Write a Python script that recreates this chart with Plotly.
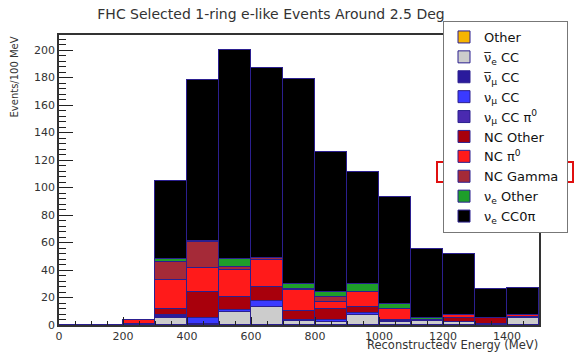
import plotly.graph_objects as go

# Bin centres (MeV), 100 MeV bins from 0 to 1500
bin_centers = [50, 150, 250, 350, 450, 550, 650, 750, 850, 950, 1050, 1150, 1250, 1350, 1450]

# Stack components (events per bin), bottom to top
other      = [0, 0, 0, 0, 0, 0, 0, 0, 0, 0, 0, 0, 0, 0, 0]
nuebar_cc  = [0, 0, 0, 5, 1, 9.2, 13.3, 3, 2, 7.3, 2.4, 3, 2, 1, 5]
numubar_cc = [0, 0, 0, 2.3, 0, 0, 0, 0.5, 0.5, 0, 0, 0, 0, 0, 0]
numu_cc    = [0, 0, 0, 0, 3.8, 1.7, 4.2, 0.5, 1, 1.7, 0.6, 0, 0, 0, 0]
numu_ccpi0 = [0, 0, 0, 0, 0, 0, 0, 0, 0, 0, 0, 0, 0, 0, 0]
nc_other   = [0, 0, 1, 4.3, 19.2, 9.7, 10.4, 6, 8.1, 4.3, 1, 0.5, 3.3, 3.8, 1]
nc_pi0     = [0, 0, 2.5, 21.1, 17.7, 19.4, 19.4, 15.5, 5.4, 10.9, 7.6, 0, 2, 0, 1.5]
nc_gamma   = [0, 0, 0, 12.9, 18.9, 2, 1.5, 0.5, 3.6, 0, 0, 0, 0, 0, 0]
nue_other  = [0, 0, 0, 2.4, 0.5, 6, 0, 3.6, 3.6, 5.4, 3.4, 1.5, 0, 0, 0]
nue_cc0pi  = [0, 0, 0, 57, 117, 152, 138.5, 149.4, 101.4, 81.4, 78, 50, 44.7, 21.2, 19.5]

series_names = [
    "Other",
    "ν̅<sub>e</sub> CC",
    "ν̅<sub>μ</sub> CC",
    "ν<sub>μ</sub> CC",
    "ν<sub>μ</sub> CC π<sup>0</sup>",
    "NC Other",
    "NC π<sup>0</sup>",
    "NC Gamma",
    "ν<sub>e</sub> Other",
    "ν<sub>e</sub> CC0π",
]
series_values = [other, nuebar_cc, numubar_cc, numu_cc, numu_ccpi0,
                 nc_other, nc_pi0, nc_gamma, nue_other, nue_cc0pi]
series_colors = ["#f7b500", "#cccccc", "#2a1a9c", "#3a3aff", "#4a2ab0",
                 "#a8000c", "#ff1a1a", "#a52a38", "#1e9e2a", "#000000"]

x_tickvals = [0, 200, 400, 600, 800, 1000, 1200, 1400]
y_tickvals = [0, 20, 40, 60, 80, 100, 120, 140, 160, 180, 200]

fig = go.Figure()
for i, (name, vals, col) in enumerate(zip(series_names, series_values, series_colors)):
    # pad the widest legend label so the legend box reaches the right edge
    label = name + "\u00a0" * 6 if i == 4 else name
    fig.add_trace(go.Bar(
        x=bin_centers, y=vals, width=100, name=label,
        marker=dict(color=col, line=dict(color="#2b1f8f", width=1)),
    ))

font_family = "DejaVu Sans, Liberation Sans, Arial, sans-serif"

# plot area in pixels
L, R, T, B = 59, 35, 35, 27
W, H = 574, 352
pw, ph = W - L - R, H - T - B

def px_x(p):
    return (p - L) / pw

def px_y(p):
    return (H - B - p) / ph

fig.update_layout(
    width=W, height=H,
    margin=dict(l=L, r=R, t=T, b=B, autoexpand=False),
    barmode="stack", bargap=0,
    paper_bgcolor="white", plot_bgcolor="white",
    font=dict(family=font_family, color="#222"),
    title=dict(text="FHC Selected 1-ring e-like Events Around 2.5 Deg",
               x=px_x(271), xref="paper", xanchor="center",
               y=1 - 14 / H, yref="container", yanchor="middle",
               font=dict(size=14, color="#333", family=font_family)),
    xaxis=dict(range=[0, 1500], tickvals=x_tickvals, ticks="inside", ticklen=8,
               tickcolor="#222", showline=True, linecolor="#333", linewidth=1.5,
               mirror=True, showgrid=False, zeroline=False,
               tickfont=dict(size=11, color="#333"),
               minor=dict(ticks="inside", ticklen=4, dtick=50, tickcolor="#222")),
    yaxis=dict(range=[0, 211], tickvals=y_tickvals, ticks="inside", ticklen=14,
               tickcolor="#222", showline=True, linecolor="#333", linewidth=1.5,
               mirror=True, showgrid=False, zeroline=False,
               tickfont=dict(size=11, color="#333"),
               minor=dict(ticks="inside", ticklen=7, dtick=4, tickcolor="#222")),
    legend=dict(x=px_x(443), y=px_y(21), xanchor="left", yanchor="top",
                traceorder="normal", bgcolor="white", bordercolor="#777",
                borderwidth=1, font=dict(size=13, color="#111", family=font_family),
                tracegroupgap=0, maxheight=400),
    showlegend=True,
)

fig.add_annotation(text="Events/100 MeV", xref="paper", yref="paper",
                   x=px_x(14), y=px_y(35), xanchor="center", yanchor="top",
                   textangle=-90, showarrow=False,
                   font=dict(size=10, color="#333", family=font_family))
fig.add_annotation(text="Reconstructedv Energy (MeV)", xref="paper", yref="paper",
                   x=px_x(540), y=px_y(345), xanchor="right", yanchor="middle",
                   showarrow=False,
                   font=dict(size=11.5, color="#333", family=font_family))

# red highlight box around the "NC Gamma" legend entry
fig.add_shape(type="rect", xref="paper", yref="paper",
              x0=px_x(437), x1=px_x(573), y0=px_y(182), y1=px_y(162),
              line=dict(color="#e01010", width=2), fillcolor="rgba(0,0,0,0)")

fig.write_html("out.html", config={"displayModeBar": False},
               post_script="document.body.style.margin='0';document.body.style.overflow='hidden';")
